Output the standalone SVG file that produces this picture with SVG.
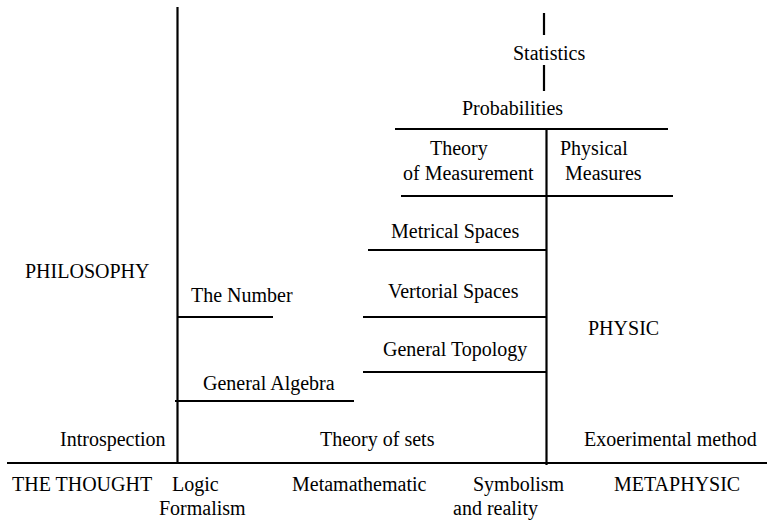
<svg xmlns="http://www.w3.org/2000/svg" width="767" height="520" viewBox="0 0 767 520">
<style>
.ln{stroke:#000;stroke-width:2.2;fill:none}
.t{font-family:'Liberation Serif','Times New Roman',serif;font-size:20px;fill:#000}
</style>
<rect width="767" height="520" fill="#fff"/>
<g id="connectors">
<line class="ln" x1="177.5" y1="7" x2="177.5" y2="463"/>
<line class="ln" x1="7" y1="463" x2="767" y2="463"/>
<line class="ln" x1="546.5" y1="128" x2="546.5" y2="465"/>
<line class="ln" x1="544" y1="13" x2="544" y2="35"/>
<line class="ln" x1="544" y1="65" x2="544" y2="91"/>
<line class="ln" x1="395" y1="129" x2="668" y2="129"/>
<line class="ln" x1="401" y1="196" x2="673" y2="196"/>
<line class="ln" x1="368" y1="250" x2="546" y2="250"/>
<line class="ln" x1="363" y1="317" x2="546" y2="317"/>
<line class="ln" x1="363" y1="372" x2="546" y2="372"/>
<line class="ln" x1="175" y1="401" x2="354" y2="401"/>
<line class="ln" x1="177" y1="317" x2="273" y2="317"/>
</g>
<g id="statistics"><text class="t" x="513" y="60">Statistics</text></g>
<g id="probabilities"><text class="t" x="462" y="115">Probabilities</text></g>
<g id="theory-measurement"><text class="t" x="430" y="155">Theory</text><text class="t" x="403" y="180">of Measurement</text></g>
<g id="physical-measures"><text class="t" x="560" y="155">Physical</text><text class="t" x="565" y="180">Measures</text></g>
<g id="metrical-spaces"><text class="t" x="391" y="238">Metrical Spaces</text></g>
<g id="vertorial-spaces"><text class="t" x="388" y="298">Vertorial Spaces</text></g>
<g id="general-topology"><text class="t" x="383" y="356">General Topology</text></g>
<g id="the-number"><text class="t" x="191" y="302">The Number</text></g>
<g id="general-algebra"><text class="t" x="203" y="390">General Algebra</text></g>
<g id="philosophy"><text class="t" x="25" y="278">PHILOSOPHY</text></g>
<g id="physic"><text class="t" x="588" y="335">PHYSIC</text></g>
<g id="introspection"><text class="t" x="60" y="446">Introspection</text></g>
<g id="theory-of-sets"><text class="t" x="320" y="446">Theory of sets</text></g>
<g id="experimental-method"><text class="t" x="584" y="446">Exoerimental method</text></g>
<g id="the-thought"><text class="t" x="12" y="491">THE THOUGHT</text></g>
<g id="logic-formalism"><text class="t" x="172" y="491">Logic</text><text class="t" x="159" y="515">Formalism</text></g>
<g id="metamathematic"><text class="t" x="292" y="491">Metamathematic</text></g>
<g id="symbolism"><text class="t" x="473" y="491">Symbolism</text><text class="t" x="453" y="515">and reality</text></g>
<g id="metaphysic"><text class="t" x="614" y="491">METAPHYSIC</text></g>
</svg>
